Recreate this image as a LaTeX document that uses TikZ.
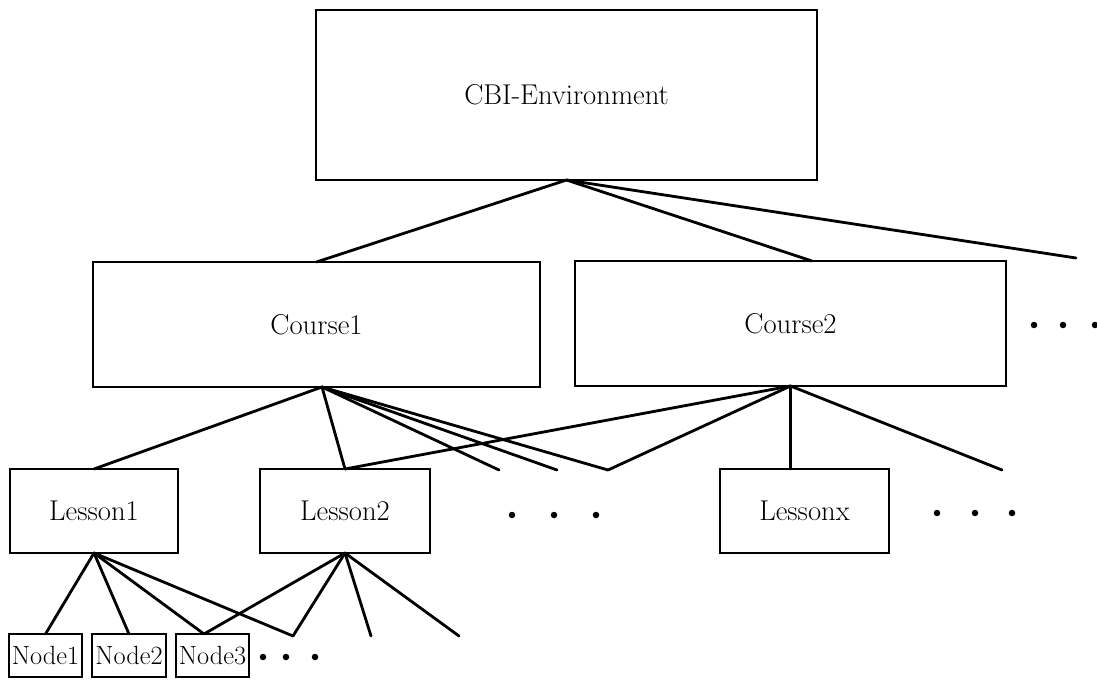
\documentclass[tikz,border=0pt]{standalone}
\begin{document}
\begin{tikzpicture}
[x=0.02cm,y=-0.02cm,
  lineDecorate/.style={-,line width=1.6pt,line cap=round},%
  boxDecorate/.style={shape=rectangle,draw,line width=1.2pt,inner sep=0pt,outer sep=0pt}]
\useasboundingbox (0,0) rectangle (1097,679);
%% boxes
\foreach \nodename/\x/\y/\w/\h/\fs/\caption in {
  cbi/566.5/95/501/170/16.3/CBI-Environment,
  course1/316.5/324.5/447/125/16.3/Course1, course2/790.5/323.5/431/125/16.3/Course2,
  lesson1/94/511/168/84/16.3/Lesson1, lesson2/345/511/170/84/16.3/Lesson2,
  lessonx/804.5/511/169/84/16.3/Lessonx,
  node1/45.5/655.5/73/43/15/Node1, node2/129/655.5/74/43/15/Node2,
  node3/212.5/655.5/73/43/15/Node3}
{
  \node (\nodename) at (\x,\y) [boxDecorate,minimum width=\w*0.02cm,minimum height=\h*0.02cm,
    font=\fontsize{\fs}{18}\selectfont] {\caption};
}
%% where the lines meet the boxes off centre
\coordinate (course2in) at ([xshift=0.43cm]course2.north);
\coordinate (course1out) at ([xshift=0.11cm]course1.south);
\coordinate (lessonxin) at (lessonx.north -| course2.south);
\coordinate (node3in) at ([xshift=-0.17cm]node3.north);
%% loose ends
\foreach \nodename/\x/\y in {
  cbiend/1076/258, c1a/499/470, c1b/557/470, vee1/608/470, c2a/1002/470,
  vee2/293/636, l2a/371/636, l2b/459/636}
{
  \coordinate (\nodename) at (\x,\y);
}
%% edges
\path
\foreach \startnode/\endnode in {
  cbi.south/course1.north, cbi.south/course2in, cbi.south/cbiend,
  course1out/lesson1.north, course1out/lesson2.north, course1out/c1a, course1out/c1b, course1out/vee1,
  course2.south/lesson2.north, course2.south/vee1, course2.south/lessonxin, course2.south/c2a,
  lesson1.south/node1.north, lesson1.south/node2.north, lesson1.south/node3in, lesson1.south/vee2,
  lesson2.south/node3in, lesson2.south/vee2, lesson2.south/l2a, lesson2.south/l2b}
{
  (\startnode) edge[lineDecorate] (\endnode)
};
%% dots
\foreach \x/\y in {1034/325, 1063/325, 1095/325,
  512/515, 554/515, 596/515, 937/513, 975/513, 1012/513,
  263/657, 286/657, 315/657}
{
  \fill (\x,\y) circle[radius=0.065cm];
}
\end{tikzpicture}
\end{document}
